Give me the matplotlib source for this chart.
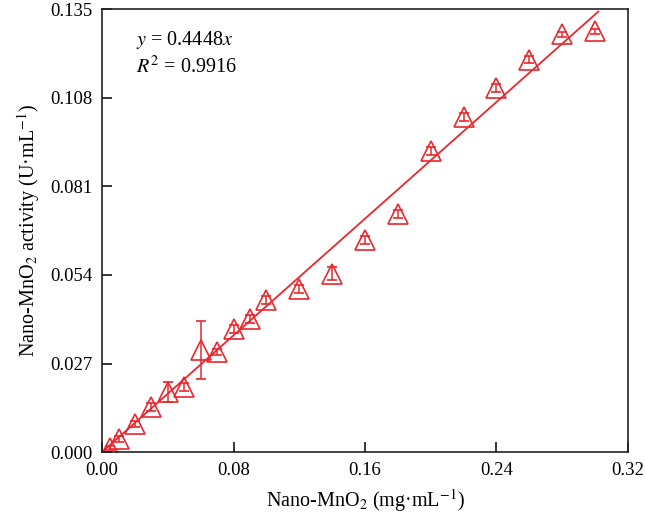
import matplotlib

matplotlib.use("Agg")

import matplotlib.pyplot as plt

# concentration of nano-MnO2 (mg/mL) and measured activity (U/mL)
conc = [0.005, 0.01, 0.02, 0.03, 0.04, 0.05, 0.06, 0.07, 0.08, 0.09, 0.10,
        0.12, 0.14, 0.16, 0.18, 0.20, 0.22, 0.24, 0.26, 0.28, 0.30]
activity = [0.0012, 0.0040, 0.0086, 0.0137, 0.0183, 0.0199, 0.0312, 0.0305,
            0.0376, 0.0406, 0.0464, 0.0498, 0.0544, 0.0647, 0.0727, 0.0919,
            0.1023, 0.1109, 0.1197, 0.1274, 0.1283]
activity_err = [0.0005, 0.0008, 0.0010, 0.0012, 0.0030, 0.0012, 0.0089, 0.0010,
                0.0012, 0.0012, 0.0012, 0.0012, 0.0020, 0.0012, 0.0012, 0.0012,
                0.0012, 0.0012, 0.0012, 0.0008, 0.0008]
slope = 0.4448
r2 = 0.9916
fit_x = [0.0, 0.302]

x_ticks = [0.00, 0.08, 0.16, 0.24, 0.32]
y_ticks = [0.000, 0.027, 0.054, 0.081, 0.108, 0.135]

plt.rcParams["font.family"] = ["Liberation Serif", "DejaVu Serif"]
plt.rcParams["mathtext.fontset"] = "stix"

red = "#e8282e"

fig = plt.figure(figsize=(6.46, 5.22), dpi=100)
ax = fig.add_axes([0.158, 0.134, 0.814, 0.848])

ax.plot(fit_x, [slope * v for v in fit_x], color=red, linewidth=1.3)
ax.errorbar(conc, activity, yerr=activity_err, fmt="^", color=red,
            markerfacecolor="none", markeredgecolor=red, markersize=14,
            markeredgewidth=1.2, elinewidth=1.1, capsize=3.5, capthick=1.1)

ax.set_xlim(0, 0.32)
ax.set_ylim(0, 0.135)
ax.set_xticks(x_ticks)
ax.set_xticklabels([f"{v:.2f}" for v in x_ticks])
ax.set_yticks(y_ticks)
ax.set_yticklabels([f"{v:.3f}" for v in y_ticks])
ax.tick_params(direction="in", length=7, width=1.1, labelsize=13.5,
               top=False, right=False, pad=7)
for s in ax.spines.values():
    s.set_linewidth(1.2)
    s.set_color("#222222")

ax.set_xlabel("Nano-MnO$_2$ (mg·mL$^{-1}$)", fontsize=14.5, labelpad=6)
ax.set_ylabel("Nano-MnO$_2$ activity (U·mL$^{-1}$)", fontsize=14.5, labelpad=6)

ax.text(0.065, 0.93, f"$y$ = {slope}$x$", transform=ax.transAxes,
        fontsize=14.5, va="center")
ax.text(0.065, 0.87, f"$R^2$ = {r2}", transform=ax.transAxes,
        fontsize=14.5, va="center")

fig.savefig("out.png", dpi=100)
plt.close(fig)
